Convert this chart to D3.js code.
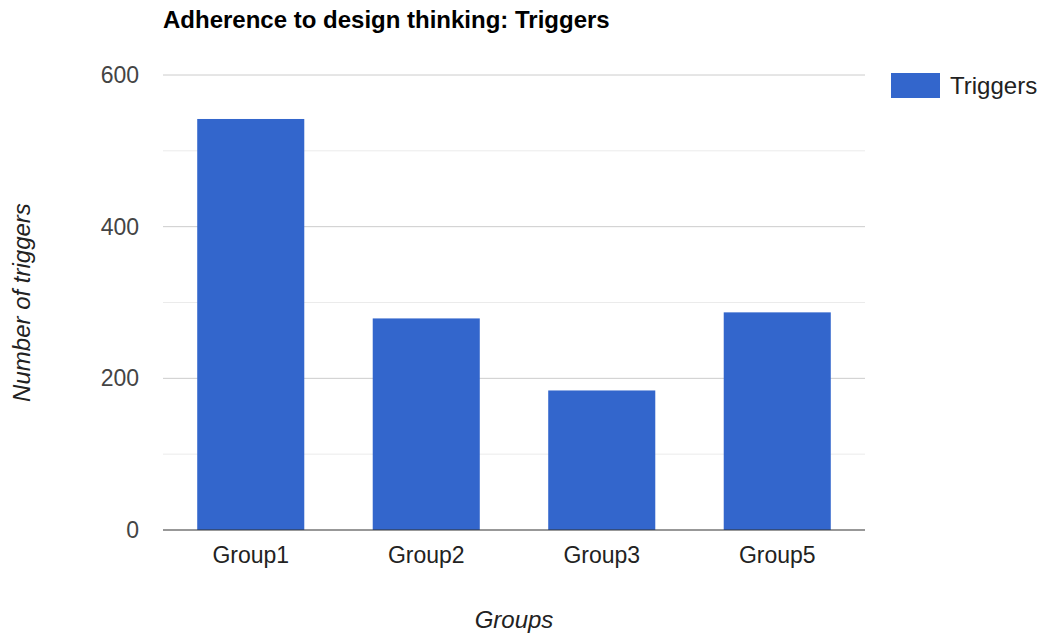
<!DOCTYPE html>
<html>
<head>
<meta charset="utf-8">
<script src="https://cdn.jsdelivr.net/npm/d3@7"></script>
<style>
  html, body { margin: 0; padding: 0; background: #fff; }
  svg { display: block; font-family: "Liberation Sans", Arial, sans-serif; }
</style>
</head>
<body>
<svg id="chart" width="1045" height="634"></svg>
<script>
// Trigger counts per group
const categories = ["Group1", "Group2", "Group3", "Group5"];
const triggers = [542, 279, 184, 287];
const yTicks = [0, 200, 400, 600];
const yMinorTicks = [100, 300, 500];
const seriesName = "Triggers";

const svg = d3.select("#chart");
const margin = { left: 163, right: 180, top: 75, bottom: 104 };
const W = 1045, H = 634;
const plotW = W - margin.left - margin.right;
const plotH = H - margin.top - margin.bottom;

const x = d3.scaleBand().domain(categories).range([margin.left, margin.left + plotW]).paddingInner(0.39).paddingOuter(0.195);
const y = d3.scaleLinear().domain([0, 600]).range([margin.top + plotH, margin.top]);

// Gridlines
svg.append("g").selectAll("line.minor").data(yMinorTicks).join("line")
  .attr("x1", margin.left).attr("x2", margin.left + plotW)
  .attr("y1", d => y(d)).attr("y2", d => y(d))
  .attr("stroke", "#ebebeb").attr("stroke-width", 1);
svg.append("g").selectAll("line.major").data(yTicks.filter(d => d !== 0)).join("line")
  .attr("x1", margin.left).attr("x2", margin.left + plotW)
  .attr("y1", d => y(d)).attr("y2", d => y(d))
  .attr("stroke", "#cccccc").attr("stroke-width", 1);

// Bars
svg.append("g").selectAll("rect").data(categories).join("rect")
  .attr("x", d => x(d))
  .attr("width", x.bandwidth())
  .attr("y", (d, i) => y(triggers[i]))
  .attr("height", (d, i) => y(0) - y(triggers[i]))
  .attr("fill", "#3366cc");

// Baseline
svg.append("line")
  .attr("x1", margin.left).attr("x2", margin.left + plotW)
  .attr("y1", y(0)).attr("y2", y(0))
  .attr("stroke", "#333").attr("stroke-width", 1.2);

// Y axis labels
const yAxis = d3.axisLeft(y).tickValues(yTicks).tickSize(0).tickPadding(24);
const gy = svg.append("g").attr("transform", `translate(${margin.left},0)`).call(yAxis);
gy.select(".domain").remove();
gy.selectAll("text").attr("font-size", 23).attr("fill", "#444").attr("font-family", "Liberation Sans, Arial, sans-serif");

// X axis labels
const xAxis = d3.axisBottom(x).tickSize(0).tickPadding(17);
const gx = svg.append("g").attr("transform", `translate(0,${y(0)})`).call(xAxis);
gx.select(".domain").remove();
gx.selectAll("text").attr("font-size", 23).attr("fill", "#222").attr("font-family", "Liberation Sans, Arial, sans-serif");

// Title
svg.append("text").attr("x", margin.left).attr("y", 28)
  .attr("font-size", 24).attr("font-weight", "bold").attr("fill", "#000")
  .text("Adherence to design thinking: Triggers");

// Axis titles
svg.append("text").attr("x", margin.left + plotW / 2).attr("y", 628)
  .attr("text-anchor", "middle").attr("font-size", 24).attr("font-style", "italic").attr("fill", "#222")
  .text("Groups");
svg.append("text")
  .attr("transform", `translate(30,${margin.top + plotH / 2}) rotate(-90)`)
  .attr("text-anchor", "middle").attr("font-size", 24).attr("font-style", "italic").attr("fill", "#222")
  .text("Number of triggers");

// Legend
const lg = svg.append("g").attr("transform", "translate(891,73)");
lg.append("rect").attr("width", 49).attr("height", 25).attr("fill", "#3366cc");
lg.append("text").attr("x", 59).attr("y", 21).attr("font-size", 24).attr("fill", "#222").text(seriesName);
</script>
</body>
</html>
